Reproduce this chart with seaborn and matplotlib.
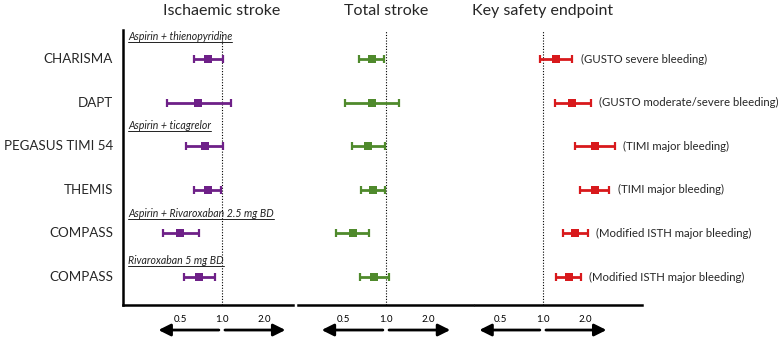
import matplotlib
matplotlib.use("Agg")
import matplotlib.pyplot as plt
import matplotlib.transforms as mtransforms
from matplotlib.lines import Line2D
from matplotlib.ticker import FixedLocator, NullLocator, FixedFormatter
import seaborn as sns
import numpy as np

# --- data (hazard ratios with 95% CI) ---
trials = ["CHARISMA", "DAPT", "PEGASUS TIMI 54", "THEMIS", "COMPASS", "COMPASS"]
groups = ["Aspirin + thienopyridine", "Aspirin + ticagrelor",
          "Aspirin + Rivaroxaban 2.5 mg BD", "Rivaroxaban 5 mg BD"]

isch_hr = [0.80, 0.67, 0.76, 0.80, 0.50, 0.68]
isch_lo = [0.63, 0.40, 0.55, 0.63, 0.38, 0.53]
isch_hi = [1.01, 1.16, 1.01, 0.98, 0.68, 0.89]

total_hr = [0.79, 0.80, 0.75, 0.81, 0.58, 0.82]
total_lo = [0.64, 0.51, 0.57, 0.67, 0.44, 0.65]
total_hi = [0.97, 1.23, 0.98, 0.99, 0.76, 1.05]

safety_hr = [1.25, 1.62, 2.36, 2.36, 1.71, 1.53]
safety_lo = [0.96, 1.21, 1.69, 1.84, 1.40, 1.25]
safety_hi = [1.62, 2.20, 3.28, 2.98, 2.09, 1.87]
safety_labels = ["(GUSTO severe bleeding)", "(GUSTO moderate/severe bleeding)",
                 "(TIMI major bleeding)", "(TIMI major bleeding)",
                 "(Modified ISTH major bleeding)", "(Modified ISTH major bleeding)"]

titles = ["Ischaemic stroke", "Total stroke", "Key safety endpoint"]
tick_vals = [0.5, 1.0, 2.0]
tick_labels = ["0.5", "1.0", "2.0"]

# --- layout ---
W, H = 780, 337
colors = ["#6e2088", "#4f8a2c", "#d8191c"]
panels_px = [(123, 293), (298, 473), (475, 642)]
xlims = [(0.195, 3.23), (0.238, 4.13), (0.326, 5.12)]
top_px, bot_px = 30, 305
header_y = [-0.44, 1.61, 3.62, 4.69]   # baseline positions in row units

sns.set_theme(style="white")
plt.rcParams["font.family"] = ["Lato", "DejaVu Sans"]

fig = plt.figure(figsize=(W / 100, H / 100), dpi=100)
rows = np.arange(len(trials))

series = [(isch_hr, isch_lo, isch_hi), (total_hr, total_lo, total_hi),
          (safety_hr, safety_lo, safety_hi)]
axes = []
for i, ((l, r), (hr, lo, hi)) in enumerate(zip(panels_px, series)):
    ax = fig.add_axes([l / W, 1 - bot_px / H, (r - l) / W, (bot_px - top_px) / H])
    ax.set_facecolor("none")
    ax.set_xscale("log", base=2)
    hr, lo, hi = np.array(hr), np.array(lo), np.array(hi)
    ax.errorbar(hr, rows, xerr=[hr - lo, hi - hr], fmt="none", ecolor=colors[i],
                elinewidth=2, capsize=2.6, capthick=1.6, zorder=3)
    sns.scatterplot(x=hr, y=rows, marker="s", s=30, color=colors[i],
                    edgecolor=colors[i], linewidth=0, ax=ax, zorder=4)
    ax.axvline(1.0, color="black", linestyle=(0, (1, 1.5)), linewidth=0.8, zorder=1)
    ax.set_xlim(*xlims[i])
    ax.set_ylim(5.64, -0.665)
    ax.xaxis.set_major_locator(FixedLocator(tick_vals))
    ax.xaxis.set_major_formatter(FixedFormatter(tick_labels))
    ax.xaxis.set_minor_locator(NullLocator())
    ax.set_yticks([])
    ax.set_xlabel("")
    ax.set_ylabel("")
    ax.tick_params(axis="x", direction="out", length=4, width=1.5,
                   labelsize=7, pad=3, colors="black")
    for s in ["top", "right"]:
        ax.spines[s].set_visible(False)
    ax.spines["left"].set_visible(i == 0)
    for s in ["left", "bottom"]:
        ax.spines[s].set_color("black")
        ax.spines[s].set_linewidth(1.8)

    trans = mtransforms.blended_transform_factory(ax.transData, ax.transAxes)
    ax.text(1.0, 1 + 19 / (bot_px - top_px), titles[i], transform=trans,
            ha="center", va="center", fontsize=11.5)

    # direction arrows under the axis
    for x0, x1 in [(0.95, 0.35), (1.05, 2.85)]:
        ax.annotate("", xy=(x1, -0.091), xytext=(x0, -0.091),
                    xycoords=("data", "axes fraction"), textcoords=("data", "axes fraction"),
                    arrowprops=dict(arrowstyle="-|>,head_length=0.6,head_width=0.3",
                                    color="black", lw=2, shrinkA=0, shrinkB=0),
                    annotation_clip=False)
    axes.append(ax)

ax1, ax3 = axes[0], axes[2]

# trial names
tr1 = mtransforms.blended_transform_factory(ax1.transAxes, ax1.transData)
for r, name in zip(rows, trials):
    ax1.text(-0.059, r, name, transform=tr1, ha="right", va="center", fontsize=9.6)

# drug group headers (italic, underlined)
headers = []
for y, g in zip(header_y, groups):
    headers.append(ax1.text(0.03, y, g, transform=tr1, ha="left", va="baseline",
                            fontsize=7.6, fontstyle="italic", color="#222222"))

# safety endpoint labels
for r, hi, lab in zip(rows, safety_hi, safety_labels):
    ax3.annotate(lab, xy=(hi, r), xytext=(6, 0), textcoords="offset points",
                 ha="left", va="center", fontsize=8.2, annotation_clip=False)

fig.canvas.draw()
renderer = fig.canvas.get_renderer()
for t in headers:
    bb = t.get_window_extent(renderer)
    base = t.get_transform().transform(t.get_position())[1]
    y = (base - 2) / H
    fig.add_artist(Line2D([bb.x0 / W, bb.x1 / W], [y, y], transform=fig.transFigure,
                          color="#222222", linewidth=0.7))

fig.savefig("out.png", dpi=100)
